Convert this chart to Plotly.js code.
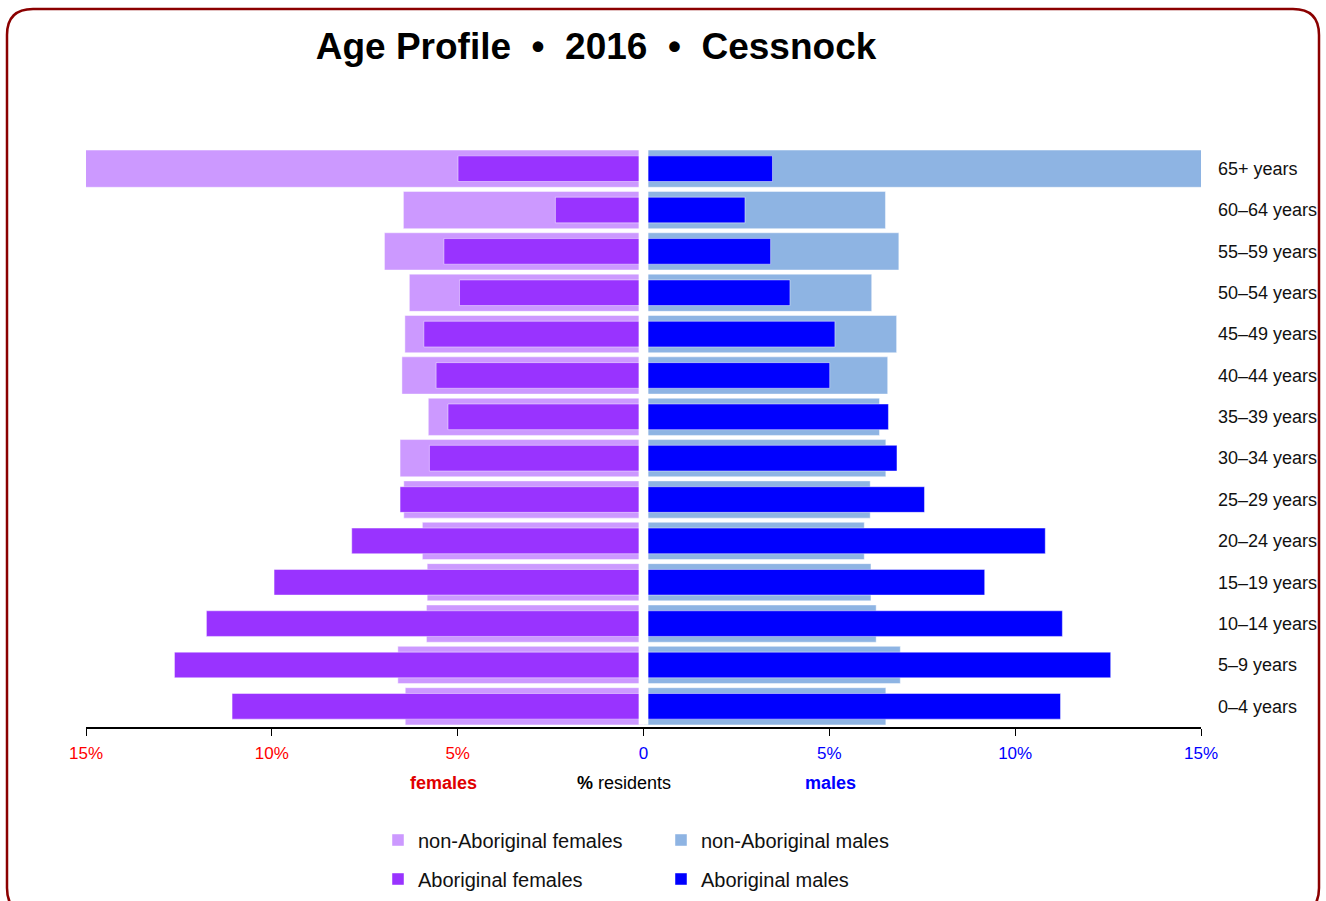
<!DOCTYPE html>
<html>
<head>
<meta charset="utf-8">
<script src="https://cdn.plot.ly/plotly-3.0.1.min.js"></script>
<style>html,body{margin:0;padding:0;background:#fff;}#chart{width:1326px;height:901px;}</style>
</head>
<body>
<div id="chart"></div>
<script>
// Age groups, bottom to top
const ageGroups = ['0–4 years','5–9 years','10–14 years','15–19 years','20–24 years','25–29 years','30–34 years','35–39 years','40–44 years','45–49 years','50–54 years','55–59 years','60–64 years','65+ years'];

// % of residents (bottom to top, same order as ageGroups)
const nonAboriginalFemales = [6.41, 6.61, 5.84, 5.82, 5.95, 6.45, 6.55, 5.79, 6.50, 6.42, 6.30, 6.97, 6.46, 17.4];
const aboriginalFemales    = [11.07, 12.62, 11.76, 9.94, 7.85, 6.55, 5.76, 5.26, 5.58, 5.91, 4.95, 5.37, 2.37, 4.99];
const nonAboriginalMales   = [6.52, 6.91, 6.26, 6.12, 5.94, 6.10, 6.52, 6.35, 6.57, 6.81, 6.14, 6.87, 6.51, 15.8];
const aboriginalMales      = [11.22, 12.57, 11.27, 9.18, 10.81, 7.56, 6.82, 6.59, 5.01, 5.15, 3.94, 3.42, 2.73, 3.47];

const tickVals = [-15, -10, -5, 0, 5, 10, 15];
const tickLabels = ['15%', '10%', '5%', '0', '5%', '10%', '15%'];

const FONT = '"Liberation Sans", Arial, sans-serif';
const RED = '#ff0000', BLUE = '#0000ff';

// plot area in px
const PL = 86, PR = 1201, PT = 148, PB = 727;
const px = x => (x - PL) / (PR - PL);
const py = y => (PB - y) / (PB - PT);

function roundedRectPath(x0, y0, x1, y1, r) {
  const p = (x, y) => px(x).toFixed(5) + ',' + py(y).toFixed(5);
  return 'M' + p(x0 + r, y0) + ' L' + p(x1 - r, y0) + ' Q' + p(x1, y0) + ' ' + p(x1, y0 + r) +
         ' L' + p(x1, y1 - r) + ' Q' + p(x1, y1) + ' ' + p(x1 - r, y1) +
         ' L' + p(x0 + r, y1) + ' Q' + p(x0, y1) + ' ' + p(x0, y1 - r) +
         ' L' + p(x0, y0 + r) + ' Q' + p(x0, y0) + ' ' + p(x0 + r, y0) + ' Z';
}

const neg = a => a.map(v => -v);
const edge = 'rgba(255,255,255,0.45)';

const traces = [
  {type:'bar', orientation:'h', name:'non-Aboriginal females', y:ageGroups, x:neg(nonAboriginalFemales),
   width:0.9, marker:{color:'#cc99ff', line:{color:edge, width:1}}, legend:'legend', hoverinfo:'skip'},
  {type:'bar', orientation:'h', name:'non-Aboriginal males', y:ageGroups, x:nonAboriginalMales,
   width:0.9, marker:{color:'#8eb4e3', line:{color:edge, width:1}}, legend:'legend', hoverinfo:'skip'},
  {type:'bar', orientation:'h', name:'Aboriginal females', y:ageGroups, x:neg(aboriginalFemales),
   width:0.62, marker:{color:'#9933ff', line:{color:edge, width:1}}, legend:'legend2', hoverinfo:'skip'},
  {type:'bar', orientation:'h', name:'Aboriginal males', y:ageGroups, x:aboriginalMales,
   width:0.62, marker:{color:'#0000ff', line:{color:edge, width:1}}, legend:'legend2', hoverinfo:'skip'}
];

const legendCommon = {orientation:'h', xanchor:'left', yanchor:'middle', entrywidthmode:'pixels', entrywidth:238,
  itemwidth:30, font:{family:FONT, size:20, color:'#111'}, bgcolor:'rgba(0,0,0,0)', traceorder:'normal'};

const layout = {
  width:1326, height:901,
  margin:{l:PL, r:1326-PR, t:PT, b:901-PB, pad:0, autoexpand:false},
  paper_bgcolor:'#fff', plot_bgcolor:'#fff',
  barmode:'overlay', bargap:0,
  showlegend:true,
  title:{text:'<b>Age Profile  •  2016  •  Cessnock</b>', x:596/1326, xanchor:'center', xref:'container',
         y:1-46/901, yanchor:'middle', yref:'container',
         font:{family:FONT, size:37, color:'#000'}},
  xaxis:{range:[-15,15], tickvals:tickVals,
         ticktext:tickLabels.map((t,i)=> tickVals[i] < 0 ? '<span style="color:'+RED+'">'+t+'</span>' : t),
         tickfont:{family:FONT, size:17, color:BLUE}, ticks:'outside', ticklen:7, tickwidth:1, tickcolor:'#000',
         ticklabelstandoff:3,
         showline:true, linecolor:'#000', linewidth:2, showgrid:false, zeroline:false, fixedrange:true},
  yaxis:{type:'category', categoryorder:'array', categoryarray:ageGroups, range:[-0.5,13.5],
         side:'right', ticks:'', ticklabelstandoff:16, tickfont:{family:FONT, size:18, color:'#111'},
         showline:false, showgrid:false, zeroline:false, fixedrange:true},
  legend:Object.assign({}, legendCommon, {x:px(378), y:py(840)}),
  legend2:Object.assign({}, legendCommon, {x:px(378), y:py(879)}),
  shapes:[
    {type:'rect', xref:'x', yref:'paper', x0:-0.13, x1:0.13, y0:0.004, y1:1.01, fillcolor:'#fff', line:{width:0}, layer:'above'},
    {type:'path', xref:'paper', yref:'paper', path:roundedRectPath(7, 9, 1319, 914, 26),
     line:{color:'#8b0000', width:2.5}, fillcolor:'rgba(0,0,0,0)', layer:'below'}
  ],
  annotations:[
    {text:'<b>females</b>', x:px(443), y:py(783), xref:'paper', yref:'paper', showarrow:false,
     font:{family:FONT, size:18, color:'#e00000'}, xanchor:'center', yanchor:'middle'},
    {text:'<b>%</b> residents', x:px(624), y:py(783), xref:'paper', yref:'paper', showarrow:false,
     font:{family:FONT, size:18, color:'#000'}, xanchor:'center', yanchor:'middle'},
    {text:'<b>males</b>', x:px(830), y:py(783), xref:'paper', yref:'paper', showarrow:false,
     font:{family:FONT, size:18, color:BLUE}, xanchor:'center', yanchor:'middle'}
  ]
};

Plotly.newPlot('chart', traces, layout, {displayModeBar:false, staticPlot:true});
</script>
</body>
</html>
